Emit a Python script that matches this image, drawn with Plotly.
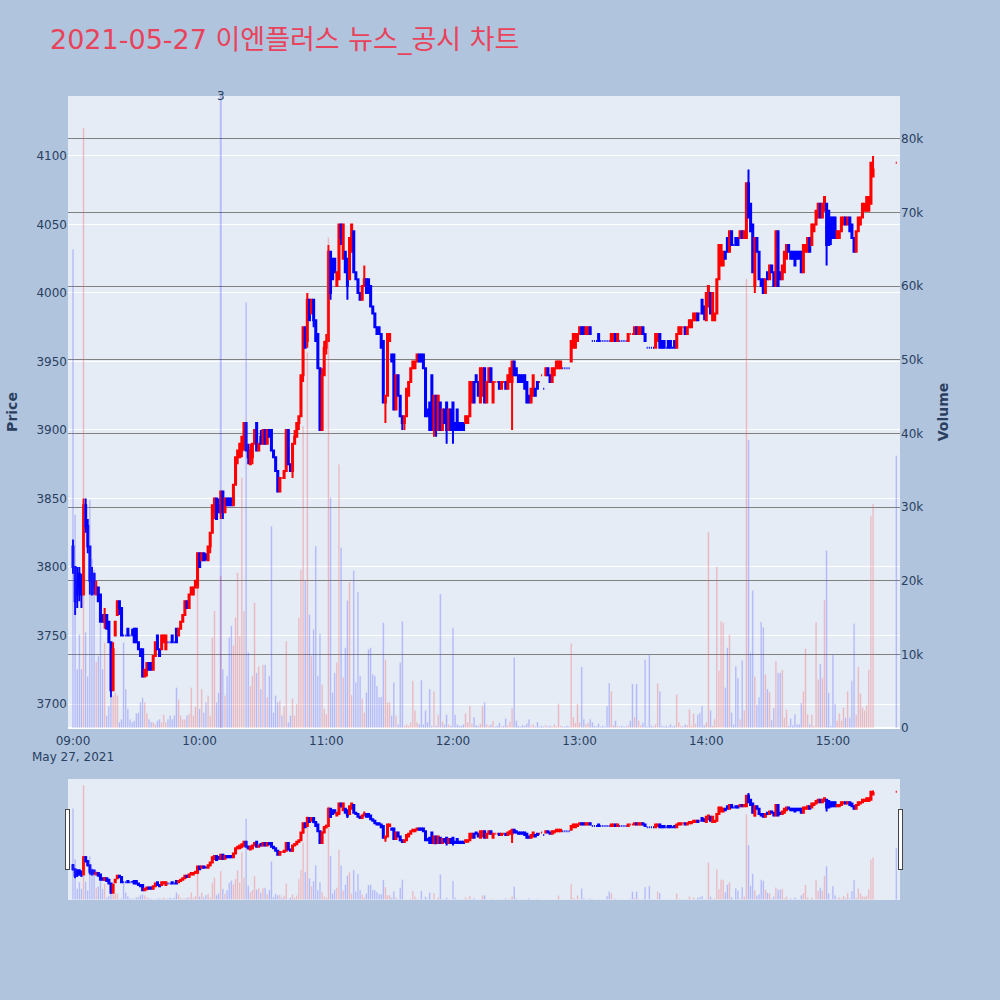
import pandas as pd
import plotly.graph_objects as go

title = '2021-05-27 이엔플러스 뉴스_공시 차트'

# one candle per minute 09:00-15:19, then the 15:30 closing auction
times = list(pd.date_range('2021-05-27 09:00', periods=380, freq='min'))
times.append(pd.Timestamp('2021-05-27 15:30'))

open_ = [
    # 09:00
    3815, 3800, 3790, 3795, 3790, 3780, 3845, 3830, 3815, 3795,
    3795, 3780, 3785, 3780, 3765, 3760, 3765, 3760, 3745, 3710,
    3750, 3765, 3775, 3770, 3750, 3750, 3755, 3750, 3750, 3755,
    3755, 3745, 3740, 3740, 3720, 3725, 3730, 3730, 3725, 3735,
    3750, 3740, 3740, 3745, 3740, 3745, 3745, 3750, 3745, 3755,
    3750, 3755, 3760, 3765, 3775, 3770, 3780, 3780, 3785, 3785,
    # 10:00
    3810, 3805, 3810, 3805, 3805, 3815, 3825, 3840, 3850, 3845,
    3840, 3855, 3840, 3850, 3850, 3850, 3845, 3860, 3880, 3880,
    3885, 3890, 3905, 3885, 3875, 3880, 3890, 3905, 3885, 3895,
    3890, 3900, 3890, 3900, 3900, 3885, 3880, 3870, 3855, 3865,
    3865, 3870, 3900, 3875, 3870, 3890, 3895, 3905, 3910, 3940,
    3975, 3965, 3995, 3985, 3995, 3980, 3970, 3945, 3900, 3940,
    # 11:00
    3960, 3965, 4030, 4025, 4025, 4005, 4010, 4050, 4025, 4030,
    4025, 4010, 4030, 4045, 4015, 4010, 4000, 3995, 4005, 4010,
    4010, 4005, 3990, 3985, 3975, 3975, 3970, 3965, 3920, 3925,
    3965, 3955, 3955, 3915, 3940, 3925, 3910, 3905, 3910, 3925,
    3935, 3945, 3945, 3950, 3955, 3955, 3955, 3945, 3915, 3920,
    3940, 3900, 3925, 3900, 3920, 3900, 3915, 3920, 3900, 3915,
    # 12:00
    3920, 3905, 3915, 3905, 3905, 3905, 3905, 3905, 3910, 3920,
    3935, 3940, 3935, 3920, 3925, 3945, 3920, 3935, 3945, 3920,
    3935, 3935, 3935, 3930, 3935, 3935, 3930, 3935, 3935, 3950,
    3945, 3940, 3940, 3940, 3940, 3935, 3925, 3920, 3925, 3930,
    3935, 3935, 3940, 3930, 3940, 3945, 3940, 3935, 3940, 3945,
    3945, 3945, 3945, 3945, 3945, 3945, 3950, 3960, 3960, 3965,
    # 13:00
    3970, 3975, 3975, 3970, 3970, 3975, 3965, 3965, 3965, 3970,
    3965, 3965, 3965, 3965, 3965, 3965, 3965, 3970, 3965, 3965,
    3965, 3965, 3965, 3965, 3970, 3970, 3970, 3975, 3970, 3970,
    3975, 3970, 3960, 3960, 3960, 3960, 3960, 3965, 3970, 3965,
    3965, 3960, 3965, 3965, 3960, 3965, 3960, 3970, 3970, 3975,
    3975, 3970, 3975, 3975, 3980, 3980, 3985, 3985, 3995, 3990,
    # 14:00
    3980, 3990, 4000, 3980, 3980, 3985, 4010, 4020, 4020, 4030,
    4040, 4030, 4045, 4035, 4040, 4040, 4040, 4045, 4040, 4040,
    4080, 4065, 4050, 4005, 4040, 4030, 4010, 4010, 4000, 4015,
    4010, 4020, 4015, 4005, 4045, 4015, 4010, 4015, 4025, 4035,
    4030, 4030, 4030, 4030, 4030, 4030, 4015, 4030, 4030, 4040,
    4035, 4045, 4050, 4055, 4065, 4055, 4060, 4065, 4060, 4055,
    # 15:00
    4055, 4055, 4040, 4040, 4045, 4050, 4055, 4050, 4055, 4050,
    4040, 4030, 4045, 4050, 4055, 4060, 4060, 4060, 4065, 4085,
    # 15:30
    4095,
]

high = [
    # 09:00
    3820, 3800, 3800, 3800, 3795, 3850, 3850, 3835, 3815, 3800,
    3795, 3790, 3785, 3780, 3765, 3770, 3765, 3760, 3745, 3745,
    3760, 3775, 3775, 3770, 3750, 3750, 3755, 3750, 3755, 3755,
    3755, 3745, 3740, 3740, 3725, 3730, 3730, 3730, 3735, 3745,
    3750, 3740, 3750, 3750, 3750, 3745, 3745, 3750, 3745, 3755,
    3755, 3760, 3765, 3775, 3775, 3780, 3785, 3785, 3790, 3810,
    # 10:00
    3810, 3810, 3810, 3810, 3815, 3825, 3845, 3850, 3850, 3850,
    3855, 3855, 3850, 3850, 3850, 3850, 3860, 3880, 3885, 3890,
    3895, 3905, 3905, 3890, 3890, 3890, 3900, 3905, 3890, 3900,
    3900, 3900, 3900, 3900, 3900, 3885, 3880, 3870, 3865, 3865,
    3870, 3900, 3900, 3875, 3890, 3900, 3905, 3910, 3940, 3975,
    3975, 4000, 3995, 3995, 3995, 3980, 3970, 3945, 3945, 3965,
    # 11:00
    3970, 4035, 4030, 4025, 4025, 4015, 4050, 4050, 4050, 4030,
    4025, 4040, 4050, 4045, 4015, 4010, 4000, 4005, 4020, 4010,
    4010, 4005, 3990, 3985, 3975, 3975, 3970, 3965, 3925, 3970,
    3970, 3955, 3955, 3940, 3940, 3925, 3910, 3910, 3930, 3935,
    3945, 3950, 3950, 3955, 3955, 3955, 3955, 3945, 3915, 3920,
    3940, 3925, 3925, 3925, 3920, 3915, 3915, 3920, 3915, 3915,
    # 12:00
    3920, 3905, 3915, 3905, 3905, 3905, 3910, 3910, 3935, 3935,
    3935, 3940, 3935, 3945, 3945, 3945, 3935, 3945, 3945, 3935,
    3935, 3935, 3935, 3935, 3935, 3935, 3940, 3945, 3950, 3950,
    3945, 3940, 3940, 3940, 3940, 3935, 3925, 3930, 3940, 3930,
    3935, 3935, 3940, 3930, 3945, 3945, 3940, 3945, 3945, 3950,
    3950, 3950, 3945, 3945, 3945, 3945, 3965, 3970, 3970, 3970,
    # 13:00
    3975, 3975, 3975, 3975, 3975, 3975, 3965, 3965, 3965, 3970,
    3965, 3965, 3965, 3965, 3965, 3970, 3970, 3970, 3970, 3965,
    3965, 3965, 3965, 3970, 3970, 3970, 3975, 3975, 3975, 3975,
    3975, 3970, 3960, 3960, 3960, 3960, 3970, 3970, 3970, 3965,
    3965, 3960, 3965, 3965, 3960, 3965, 3970, 3975, 3975, 3975,
    3975, 3975, 3980, 3980, 3985, 3985, 3985, 3985, 3995, 3990,
    # 14:00
    4000, 4005, 4000, 4000, 3985, 4010, 4035, 4035, 4030, 4030,
    4040, 4045, 4045, 4035, 4040, 4040, 4045, 4045, 4045, 4080,
    4090, 4065, 4050, 4040, 4040, 4030, 4010, 4010, 4010, 4015,
    4020, 4020, 4015, 4045, 4045, 4015, 4020, 4030, 4035, 4035,
    4030, 4030, 4030, 4030, 4030, 4030, 4035, 4035, 4040, 4040,
    4050, 4050, 4060, 4065, 4065, 4065, 4070, 4065, 4060, 4055,
    # 15:00
    4055, 4055, 4045, 4045, 4055, 4055, 4055, 4055, 4055, 4050,
    4040, 4045, 4055, 4055, 4065, 4065, 4070, 4070, 4095, 4100,
    # 15:30
    4095,
]

low = [
    # 09:00
    3795, 3765, 3770, 3775, 3770, 3780, 3825, 3810, 3780, 3780,
    3780, 3780, 3775, 3760, 3760, 3755, 3755, 3745, 3705, 3710,
    3750, 3765, 3765, 3750, 3750, 3750, 3750, 3750, 3750, 3745,
    3745, 3740, 3735, 3720, 3720, 3720, 3725, 3725, 3725, 3735,
    3740, 3735, 3740, 3745, 3740, 3745, 3745, 3745, 3745, 3745,
    3750, 3755, 3760, 3765, 3770, 3770, 3780, 3780, 3785, 3785,
    # 10:00
    3800, 3805, 3805, 3805, 3805, 3810, 3825, 3835, 3835, 3840,
    3835, 3835, 3840, 3845, 3845, 3845, 3845, 3860, 3875, 3880,
    3880, 3885, 3885, 3875, 3875, 3875, 3890, 3885, 3885, 3890,
    3890, 3890, 3890, 3895, 3885, 3880, 3870, 3855, 3855, 3865,
    3865, 3870, 3875, 3870, 3865, 3890, 3895, 3900, 3910, 3935,
    3960, 3960, 3980, 3985, 3975, 3965, 3945, 3900, 3900, 3940,
    # 11:00
    3955, 3965, 3995, 4010, 4015, 4005, 4010, 4035, 4025, 4015,
    3995, 4010, 4030, 4015, 4010, 4000, 3995, 3995, 4005, 4000,
    4000, 3990, 3985, 3975, 3970, 3970, 3960, 3920, 3905, 3925,
    3965, 3950, 3915, 3915, 3925, 3910, 3900, 3900, 3910, 3925,
    3935, 3945, 3945, 3950, 3950, 3950, 3945, 3910, 3910, 3900,
    3900, 3895, 3895, 3900, 3900, 3900, 3905, 3890, 3900, 3900,
    # 12:00
    3890, 3900, 3900, 3900, 3900, 3900, 3905, 3905, 3910, 3920,
    3920, 3935, 3925, 3920, 3925, 3920, 3920, 3935, 3935, 3920,
    3935, 3935, 3930, 3930, 3935, 3930, 3930, 3935, 3900, 3940,
    3940, 3935, 3935, 3935, 3930, 3920, 3920, 3920, 3925, 3925,
    3930, 3935, 3940, 3930, 3940, 3940, 3935, 3935, 3940, 3945,
    3945, 3945, 3945, 3945, 3945, 3945, 3950, 3960, 3960, 3965,
    # 13:00
    3970, 3970, 3970, 3970, 3970, 3970, 3965, 3965, 3965, 3965,
    3965, 3965, 3965, 3965, 3965, 3965, 3965, 3965, 3965, 3965,
    3965, 3965, 3965, 3965, 3970, 3970, 3970, 3970, 3970, 3970,
    3970, 3965, 3960, 3960, 3960, 3960, 3960, 3965, 3960, 3960,
    3960, 3960, 3960, 3960, 3960, 3960, 3960, 3970, 3970, 3975,
    3970, 3970, 3975, 3975, 3980, 3980, 3980, 3985, 3985, 3980,
    # 14:00
    3980, 3990, 3985, 3980, 3980, 3985, 4010, 4020, 4020, 4025,
    4030, 4030, 4035, 4035, 4035, 4035, 4040, 4040, 4040, 4040,
    4055, 4045, 4015, 4000, 4030, 4010, 4005, 4000, 4000, 4010,
    4010, 4015, 4005, 4005, 4005, 4010, 4010, 4015, 4025, 4030,
    4025, 4025, 4020, 4025, 4025, 4015, 4015, 4030, 4030, 4030,
    4035, 4045, 4050, 4055, 4055, 4055, 4060, 4020, 4035, 4035,
    # 15:00
    4040, 4040, 4040, 4040, 4045, 4050, 4050, 4050, 4045, 4040,
    4030, 4030, 4045, 4050, 4055, 4060, 4060, 4060, 4065, 4085,
    # 15:30
    4095,
]

close = [
    # 09:00
    3800, 3775, 3780, 3785, 3780, 3845, 3830, 3815, 3790, 3780,
    3785, 3785, 3775, 3760, 3760, 3765, 3755, 3745, 3710, 3740,
    3760, 3775, 3770, 3750, 3750, 3750, 3750, 3750, 3750, 3745,
    3745, 3740, 3735, 3720, 3725, 3730, 3725, 3725, 3735, 3745,
    3740, 3735, 3750, 3750, 3750, 3745, 3745, 3745, 3745, 3745,
    3755, 3760, 3765, 3775, 3770, 3780, 3785, 3785, 3790, 3810,
    # 10:00
    3800, 3810, 3805, 3805, 3815, 3825, 3845, 3850, 3835, 3840,
    3855, 3840, 3850, 3845, 3845, 3845, 3860, 3880, 3885, 3890,
    3895, 3905, 3885, 3880, 3885, 3890, 3900, 3885, 3890, 3890,
    3900, 3890, 3900, 3895, 3885, 3880, 3870, 3855, 3865, 3865,
    3870, 3900, 3875, 3870, 3890, 3895, 3905, 3910, 3940, 3975,
    3960, 3995, 3980, 3995, 3980, 3965, 3945, 3900, 3940, 3960,
    # 11:00
    3965, 4030, 4000, 4010, 4015, 4015, 4050, 4040, 4050, 4015,
    4005, 4040, 4050, 4015, 4010, 4000, 3995, 4005, 4010, 4000,
    4000, 3990, 3985, 3975, 3970, 3970, 3960, 3920, 3925, 3970,
    3970, 3950, 3915, 3940, 3925, 3910, 3905, 3910, 3930, 3935,
    3945, 3950, 3950, 3955, 3950, 3950, 3945, 3910, 3910, 3900,
    3900, 3925, 3900, 3925, 3900, 3915, 3905, 3900, 3915, 3900,
    # 12:00
    3900, 3900, 3900, 3900, 3900, 3900, 3910, 3910, 3935, 3935,
    3920, 3935, 3925, 3945, 3945, 3920, 3935, 3945, 3935, 3935,
    3935, 3935, 3930, 3935, 3935, 3930, 3940, 3945, 3950, 3940,
    3940, 3935, 3935, 3935, 3930, 3920, 3920, 3930, 3940, 3925,
    3930, 3935, 3940, 3930, 3945, 3940, 3935, 3945, 3945, 3950,
    3950, 3950, 3945, 3945, 3945, 3945, 3965, 3970, 3970, 3970,
    # 13:00
    3975, 3970, 3970, 3975, 3975, 3970, 3965, 3965, 3965, 3965,
    3965, 3965, 3965, 3965, 3965, 3970, 3970, 3965, 3970, 3965,
    3965, 3965, 3965, 3970, 3970, 3970, 3975, 3970, 3975, 3975,
    3970, 3965, 3960, 3960, 3960, 3960, 3970, 3970, 3960, 3960,
    3960, 3960, 3960, 3960, 3960, 3960, 3970, 3975, 3975, 3975,
    3970, 3975, 3980, 3980, 3985, 3985, 3980, 3985, 3985, 3985,
    # 14:00
    4000, 4005, 3985, 4000, 3985, 4010, 4035, 4035, 4030, 4025,
    4030, 4045, 4035, 4035, 4035, 4035, 4045, 4040, 4045, 4080,
    4055, 4045, 4015, 4040, 4030, 4010, 4005, 4000, 4010, 4010,
    4020, 4015, 4005, 4045, 4005, 4010, 4020, 4030, 4035, 4030,
    4025, 4025, 4020, 4025, 4025, 4015, 4035, 4035, 4040, 4030,
    4050, 4050, 4060, 4065, 4055, 4065, 4070, 4035, 4035, 4040,
    # 15:00
    4040, 4040, 4045, 4045, 4055, 4055, 4050, 4055, 4045, 4040,
    4030, 4045, 4055, 4055, 4065, 4065, 4070, 4070, 4095, 4090,
    # 15:30
    4095,
]

volume = [
    # 09:00
    65000, 29000, 8000, 12700, 8000, 81500, 13000, 7000, 31000, 23000,
    21500, 9000, 9800, 14300, 8000, 11600, 1700, 3000, 4800, 4400,
    4800, 4400, 800, 1200, 11600, 5300, 2600, 1200, 800, 1000,
    2000, 2100, 3500, 4100, 3500, 2000, 1200, 800, 800, 500,
    1000, 1200, 800, 1800, 800, 1200, 1700, 1200, 1700, 5500,
    3900, 1700, 1200, 1200, 1700, 1900, 5500, 1700, 2900, 19300,
    # 10:00
    2600, 5300, 2100, 3500, 4400, 1700, 12300, 15900, 3500, 4800,
    20700, 8000, 4400, 7100, 12300, 13900, 11200, 15000, 21100, 12500,
    34000, 15900, 57800, 10300, 5700, 7100, 17000, 7500, 8400, 5300,
    8600, 8600, 4200, 7100, 27400, 2100, 4400, 3500, 3700, 1700,
    3000, 11800, 800, 1700, 4000, 1700, 3300, 15000, 21500, 41000,
    20000, 51000, 15400, 9800, 13400, 24700, 7100, 12800, 5900, 2600,
    # 11:00
    1900, 66600, 31300, 4800, 7500, 8900, 35800, 24500, 6900, 10900,
    17300, 19800, 4500, 21400, 6200, 18500, 7100, 4000, 2100, 4800,
    10700, 10900, 7300, 7100, 5700, 4200, 4200, 14300, 9300, 3500,
    3500, 1700, 6200, 1700, 500, 8900, 14500, 300, 500, 300,
    800, 6400, 2400, 800, 500, 6500, 500, 2400, 800, 5300,
    300, 5000, 300, 1800, 18200, 900, 500, 1800, 500, 300,
    # 12:00
    13600, 1800, 500, 300, 300, 500, 2000, 800, 3000, 600,
    1500, 400, 300, 600, 3000, 3500, 500, 300, 500, 1000,
    200, 300, 700, 200, 300, 1300, 400, 900, 2700, 9600,
    1000, 300, 200, 400, 300, 600, 1200, 300, 500, 200,
    800, 200, 300, 200, 400, 200, 300, 200, 500, 200,
    3300, 300, 200, 200, 300, 200, 11500, 1500, 700, 3300,
    # 13:00
    800, 8300, 1200, 500, 700, 1200, 800, 300, 200, 600,
    200, 300, 200, 3000, 6100, 5000, 400, 1000, 300, 200,
    300, 200, 200, 400, 1000, 6000, 1500, 6000, 1000, 400,
    700, 9300, 200, 10000, 300, 200, 500, 6100, 5000, 300,
    200, 300, 200, 500, 200, 300, 4600, 800, 300, 200,
    500, 400, 2500, 300, 2000, 600, 1800, 2100, 3000, 400,
    # 14:00
    800, 26600, 2400, 300, 1200, 21900, 7800, 14500, 14300, 5500,
    10900, 12700, 2100, 500, 8400, 6800, 1200, 9200, 2400, 61000,
    39100, 10200, 18700, 7000, 3200, 4200, 14400, 13700, 7300, 5300,
    4900, 1100, 2700, 9100, 7500, 7500, 7900, 1400, 2500, 300,
    1300, 400, 1900, 500, 500, 3400, 5000, 10800, 1900, 500,
    1800, 300, 14400, 6600, 8700, 6800, 17400, 24100, 4800, 300,
    # 15:00
    10000, 3300, 1000, 2000, 1000, 2800, 1400, 5000, 1400, 6400,
    14200, 1800, 8300, 4700, 2800, 2400, 3100, 7900, 28800, 30400,
    # 15:30
    37000,
]

# news / disclosure markers: time and number of items
news_times = ['2021-05-27 10:10']
news_counts = [3]

for name, arr in [('open', open_), ('high', high), ('low', low), ('close', close), ('volume', volume)]:
    if len(arr) != len(times):
        raise ValueError(f'{name}: {len(arr)} values for {len(times)} times')

vol_colors = ['red' if c > o else 'blue' for o, c in zip(open_, close)]

fig = go.Figure()
fig.add_trace(go.Candlestick(
    x=times, open=open_, high=high, low=low, close=close,
    increasing=dict(line=dict(color='red'), fillcolor='red'),
    decreasing=dict(line=dict(color='blue'), fillcolor='blue'),
    name='Price',
))
fig.add_trace(go.Bar(
    x=times, y=volume, yaxis='y2', name='Volume',
    marker=dict(color=vol_colors), opacity=0.25,
))

for t, n in zip(news_times, news_counts):
    fig.add_shape(type='line', xref='x', yref='paper', x0=t, x1=t, y0=0, y1=1,
                  line=dict(color='blue', width=2), opacity=0.2)
    fig.add_annotation(x=t, y=1, xref='x', yref='paper', text=str(n),
                       showarrow=False, yanchor='middle')

x_range = ['2021-05-27 08:57:38', '2021-05-27 15:31:46']

fig.update_layout(
    title=dict(text=title, x=0.05, y=0.96, yanchor='middle',
               font=dict(family='DejaVu Sans, Noto Sans CJK KR, sans-serif',
                         size=27, color='#E8435A')),
    font=dict(family='DejaVu Sans, Verdana, sans-serif', size=12),
    paper_bgcolor='lightsteelblue',
    width=1000, height=1000,
    margin=dict(l=68, r=100, t=96, b=100),
    showlegend=False,
    xaxis=dict(range=x_range, ticks='outside', ticklen=2, tickcolor='rgba(0,0,0,0)',
               rangeslider=dict(visible=True, range=x_range)),
    yaxis=dict(title=dict(text='<b>Price</b>'), range=[3682.5, 4143.7]),
    yaxis2=dict(title=dict(text='<b>Volume</b>'), overlaying='y', side='right',
                range=[0, 85800], showgrid=True, gridcolor='gray'),
)

# page margin off so the 1000x1000 figure fills the window
fig.write_html('out.html', config={'displayModeBar': False},
               post_script="document.body.style.margin = '0';")
